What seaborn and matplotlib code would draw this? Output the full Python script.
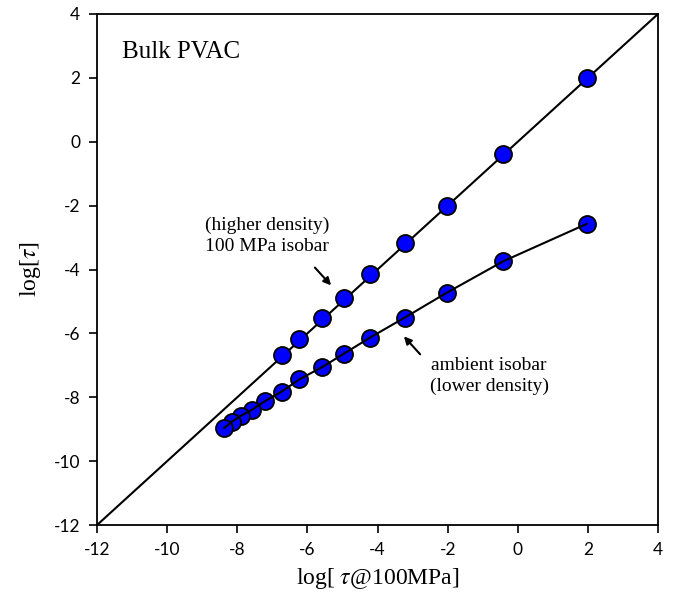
import matplotlib
matplotlib.use("Agg")
import matplotlib.pyplot as plt
import seaborn as sns
import pandas as pd

# Data
x_upper = [1.97, -0.41, -2.03, -3.23, -4.21, -4.95, -5.57, -6.23, -6.73]
y_upper = [1.99, -0.38, -2.00, -3.17, -4.13, -4.88, -5.51, -6.19, -6.68]
x_lower = [1.97, -0.41, -2.03, -3.23, -4.21, -4.95, -5.57, -6.23, -6.73,
           -7.21, -7.59, -7.90, -8.16, -8.38]
y_lower = [-2.57, -3.74, -4.73, -5.51, -6.13, -6.63, -7.05, -7.44, -7.82,
           -8.12, -8.40, -8.58, -8.77, -8.97]
ticks = [-12, -10, -8, -6, -4, -2, 0, 2, 4]

df_up = pd.DataFrame({"x": x_upper, "y": y_upper})
df_lo = pd.DataFrame({"x": x_lower, "y": y_lower})

sns.set_style("ticks")
plt.rcParams["font.family"] = ["Lato", "DejaVu Sans"]
plt.rcParams["mathtext.fontset"] = "stix"
for k in ["text.color", "axes.labelcolor", "xtick.color", "ytick.color",
          "axes.edgecolor"]:
    plt.rcParams[k] = "black"

fig = plt.figure(figsize=(6.78, 5.95), dpi=100)
ax = fig.add_axes([0.1431, 0.1176, 0.9705 - 0.1431, 0.9765 - 0.1176])

ax.axline((0, 0), slope=1, color="black", lw=1.5, zorder=1)

mk = dict(s=150, color="#0000ff", edgecolor="black", linewidth=1.3, zorder=3)
sns.scatterplot(data=df_up, x="x", y="y", ax=ax, **mk)
sns.scatterplot(data=df_lo, x="x", y="y", ax=ax, **mk)
sns.lineplot(data=df_lo, x="x", y="y", ax=ax, color="black", lw=1.5,
             sort=True, estimator=None, zorder=4)

ax.set_xlim(-12, 4)
ax.set_ylim(-12, 4)
ax.set_xticks(ticks)
ax.set_yticks(ticks)
ax.set_xticklabels([str(t) for t in ticks], fontsize=12.5)
ax.set_yticklabels([str(t) for t in ticks], fontsize=12.5)
ax.tick_params(direction="out", length=6, width=1.2, color="black",
               labelcolor="black", pad=6)
for sp in ax.spines.values():
    sp.set_visible(True)
    sp.set_linewidth(1.3)
    sp.set_color("black")

serif = "Liberation Serif"
ax.set_xlabel(r"log[ $\tau$@100MPa]", fontsize=17, family=serif, labelpad=6)
ax.set_ylabel(r"log[$\tau$]", fontsize=17, family=serif, labelpad=8)

ax.text(-11.3, 2.81, "Bulk PVAC", fontsize=18, family=serif,
        ha="left", va="center")
ax.text(-7.15, -2.95, "(higher density)\n100 MPa isobar", fontsize=14,
        family=serif, ha="center", va="center", linespacing=1.3)
ax.text(-0.82, -7.34, "ambient isobar\n(lower density)", fontsize=14,
        family=serif, ha="center", va="center", linespacing=1.3)

arrow = dict(arrowstyle="-|>", color="black", lw=1.5, mutation_scale=11)
ax.annotate("", xy=(-5.27, -4.56), xytext=(-5.84, -3.875), arrowprops=arrow)
ax.annotate("", xy=(-3.30, -6.03), xytext=(-2.73, -6.72), arrowprops=arrow)

fig.savefig("out.png", dpi=100)
